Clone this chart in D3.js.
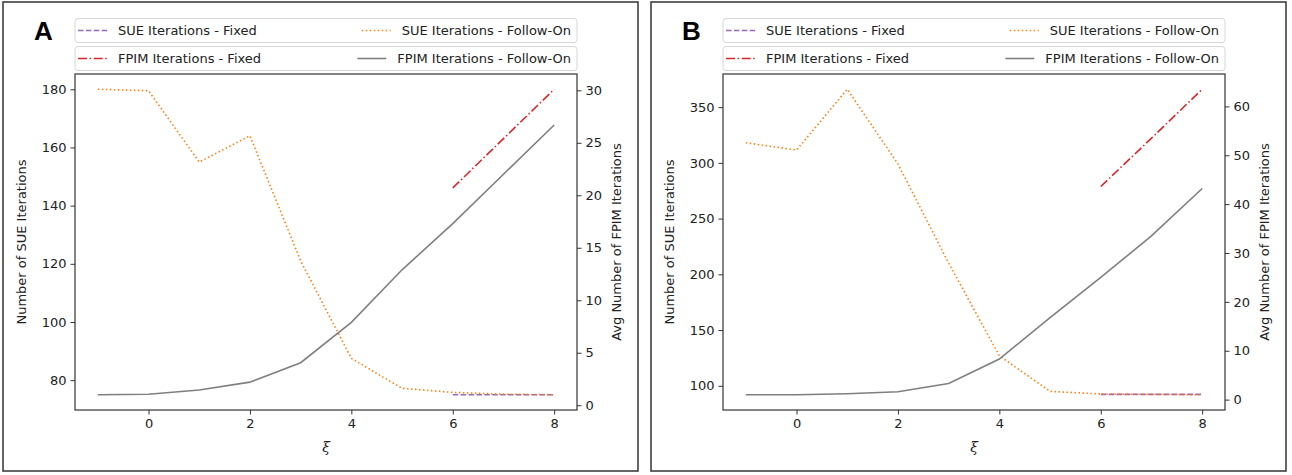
<!DOCTYPE html>
<html>
<head>
<meta charset="utf-8">
<script src="https://cdn.jsdelivr.net/npm/d3@7"></script>
<style>
  body { margin: 0; background: #fff; }
  svg { display: block; font-family: "DejaVu Sans", sans-serif; }
</style>
</head>
<body>
<svg id="chart" width="1292" height="475"></svg>
<script>
// xi values
var xi = [-1, 0, 1, 2, 3, 4, 5, 6, 7, 8];
var xiFixed = [6, 7, 8];

// panel A
var sueFollowA = [180, 179.5, 155, 164, 121, 87.5, 77.2, 75.8, 75.2, 75];
var sueFixedA = [75, 75, 75];
var fpimFollowA = [1.0, 1.05, 1.45, 2.2, 4.05, 7.9, 12.9, 17.3, 22, 26.7];
var fpimFixedA = [20.7, 25.4, 30.1];

// panel B
var sueFollowB = [318, 311.5, 366, 299, 210, 127, 95, 92.7, 92.3, 92];
var sueFixedB = [92.3, 92.3, 92.3];
var fpimFollowB = [1.0, 1.0, 1.2, 1.6, 3.3, 8.3, 16.8, 25, 33.5, 43.2];
var fpimFixedB = [43.6, 53.5, 63.5];

// tick labels
var xTicks = [0, 2, 4, 6, 8];
var leftTicksA = [80, 100, 120, 140, 160, 180];
var rightTicksA = [0, 5, 10, 15, 20, 25, 30];
var leftTicksB = [100, 150, 200, 250, 300, 350];
var rightTicksB = [0, 10, 20, 30, 40, 50, 60];

var legendRow1 = ["SUE Iterations - Fixed", "SUE Iterations - Follow-On"];
var legendRow2 = ["FPIM Iterations - Fixed", "FPIM Iterations - Follow-On"];

var styles = {
  sueFixed: { color: "#9467bd", dash: "5.5,2.4" },
  sueFollow: { color: "#ff7f0e", dash: "1.5,2.5" },
  fpimFixed: { color: "#d62728", dash: "9,2.6,1.5,2.6" },
  fpimFollow: { color: "#7f7f7f", dash: null }
};

var FS = "13px";

var svg = d3.select("#chart");
svg.append("rect").attr("width", 1292).attr("height", 475).attr("fill", "#fff");

function padded(vals) {
  var lo = d3.min(vals), hi = d3.max(vals), p = (hi - lo) * 0.05;
  return [lo - p, hi + p];
}

function drawPanel(ox, letter, sueFollow, sueFixed, fpimFollow, fpimFixed, leftTicks, rightTicks) {
  var g = svg.append("g").attr("transform", "translate(" + ox + ",0)");

  // outer frame
  g.append("rect").attr("x", 3).attr("y", 2).attr("width", 635).attr("height", 469)
    .attr("fill", "none").attr("stroke", "#333").attr("stroke-width", 1.5);

  var left = 75, right = 577, top = 74, bottom = 410;

  var x = d3.scaleLinear().domain([-1.45, 8.45]).range([left, right]);
  var yL = d3.scaleLinear().domain(padded(sueFollow.concat(sueFixed))).range([bottom, top]);
  var yR = d3.scaleLinear().domain(padded(fpimFollow.concat(fpimFixed))).range([bottom, top]);

  function line(xs, ys, scale, st) {
    var pts = xs.map(function (d, i) { return [d, ys[i]]; });
    g.append("path")
      .datum(pts)
      .attr("fill", "none")
      .attr("stroke", st.color)
      .attr("stroke-width", 1.6)
      .attr("stroke-dasharray", st.dash)
      .attr("d", d3.line().x(function (d) { return x(d[0]); }).y(function (d) { return scale(d[1]); }));
  }

  line(xiFixed, sueFixed, yL, styles.sueFixed);
  line(xi, sueFollow, yL, styles.sueFollow);
  line(xiFixed, fpimFixed, yR, styles.fpimFixed);
  line(xi, fpimFollow, yR, styles.fpimFollow);

  // axes
  var xa = g.append("g").attr("transform", "translate(0," + bottom + ")")
    .call(d3.axisBottom(x).tickValues(xTicks).tickSize(4.5).tickPadding(4));
  var la = g.append("g").attr("transform", "translate(" + left + ",0)")
    .call(d3.axisLeft(yL).tickValues(leftTicks).tickSize(4.5).tickPadding(4));
  var ra = g.append("g").attr("transform", "translate(" + right + ",0)")
    .call(d3.axisRight(yR).tickValues(rightTicks).tickSize(4.5).tickPadding(4));
  [xa, la, ra].forEach(function (a) {
    a.select(".domain").remove();
    a.selectAll("line").attr("stroke", "#333");
    a.selectAll("text").attr("fill", "#222").style("font-size", FS).style("font-family", "DejaVu Sans");
  });

  g.append("rect").attr("x", left).attr("y", top).attr("width", right - left).attr("height", bottom - top)
    .attr("fill", "none").attr("stroke", "#333").attr("stroke-width", 1.2);

  // axis titles
  g.append("text").attr("transform", "translate(26," + (top + bottom) / 2 + ") rotate(-90)")
    .attr("text-anchor", "middle").attr("fill", "#222").style("font-size", FS)
    .text("Number of SUE Iterations");
  g.append("text").attr("transform", "translate(621," + (top + bottom) / 2 + ") rotate(-90)")
    .attr("text-anchor", "middle").attr("fill", "#222").style("font-size", FS)
    .text("Avg Number of FPIM Iterations");
  g.append("text").attr("x", (left + right) / 2).attr("y", 452)
    .attr("text-anchor", "middle").attr("fill", "#222")
    .style("font-family", "'DejaVu Serif', serif")
    .style("font-size", "14px").style("font-style", "italic")
    .text("\u03be");

  // panel letter
  g.append("text").attr("x", 34).attr("y", 40)
    .style("font-family", "'Liberation Sans', Arial, sans-serif")
    .style("font-weight", "bold").style("font-size", "26px").attr("fill", "#000")
    .text(letter);

  // legends: two stacked boxes, two columns each
  function legend(y0, labels, sts) {
    var lg = g.append("g").attr("transform", "translate(0," + y0 + ")");
    lg.append("rect").attr("x", left).attr("y", 0).attr("width", right - left).attr("height", 24)
      .attr("rx", 3).attr("fill", "#fff").attr("stroke", "#d6d6d6").attr("stroke-width", 1);
    // column 1
    lg.append("line").attr("x1", left + 3).attr("x2", left + 32).attr("y1", 12).attr("y2", 12)
      .attr("stroke", sts[0].color).attr("stroke-width", 1.6).attr("stroke-dasharray", sts[0].dash);
    lg.append("text").attr("x", left + 43).attr("y", 16.5).attr("fill", "#222")
      .style("font-size", FS).text(labels[0]);
    // column 2
    var t = lg.append("text").attr("x", right - 6).attr("y", 16.5).attr("text-anchor", "end")
      .attr("fill", "#222").style("font-size", FS).text(labels[1]);
    var start = right - 6 - t.node().getComputedTextLength();
    lg.append("line").attr("x1", start - 40).attr("x2", start - 11).attr("y1", 12).attr("y2", 12)
      .attr("stroke", sts[1].color).attr("stroke-width", 1.6).attr("stroke-dasharray", sts[1].dash);
  }
  legend(18.5, legendRow1, [styles.sueFixed, styles.sueFollow]);
  legend(46.5, legendRow2, [styles.fpimFixed, styles.fpimFollow]);
}

drawPanel(0, "A", sueFollowA, sueFixedA, fpimFollowA, fpimFixedA, leftTicksA, rightTicksA);
drawPanel(648, "B", sueFollowB, sueFixedB, fpimFollowB, fpimFixedB, leftTicksB, rightTicksB);
</script>
</body>
</html>
